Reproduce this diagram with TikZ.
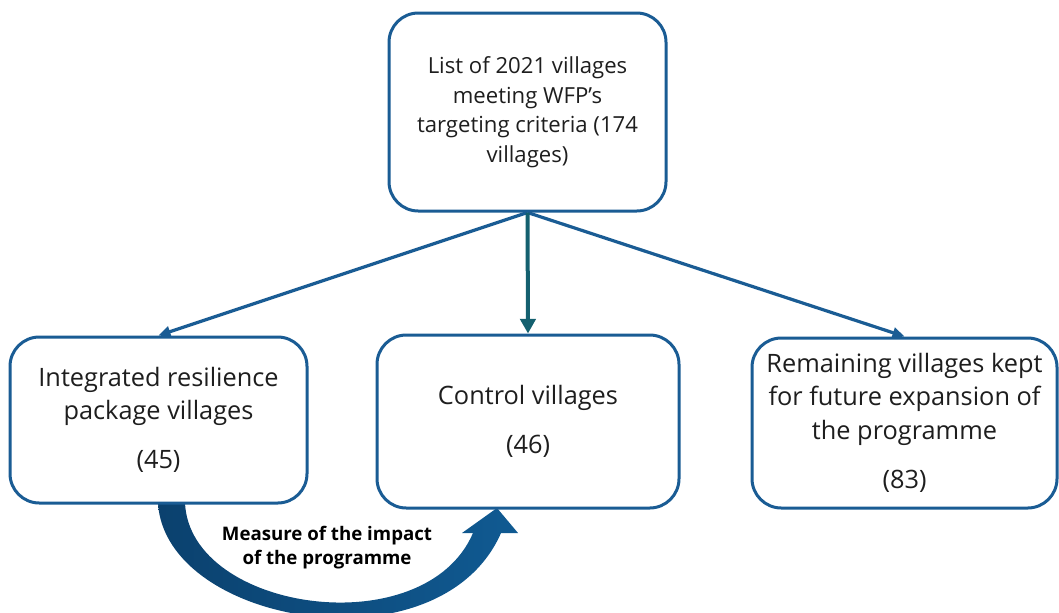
\documentclass[tikz,border=0pt]{standalone}
\usepackage{fontspec}
\setmainfont{Open Sans}
\usetikzlibrary{arrows.meta}
\definecolor{boxblue}{HTML}{1A5C94}
\definecolor{tealarrow}{HTML}{14606F}
\definecolor{arcdark}{HTML}{0B416E}
\definecolor{arclight}{HTML}{105A92}
\definecolor{txt}{HTML}{1E1E1E}
\begin{document}
\begin{tikzpicture}[x=0.75pt,y=-0.75pt,
  box/.style={draw=boxblue, line width=2.25pt, rounded corners=22pt, fill=white,
    align=center, text=txt, inner sep=0pt},
  toptext/.style={font=\fontsize{16.6}{22.2}\selectfont},
  lowtext/.style={font=\fontsize{19}{25}\selectfont},
  link/.style={draw=boxblue, line width=2.4pt, -{Triangle[length=9pt,width=8pt]}},
  mainlink/.style={draw=tealarrow, line width=3pt, -{Triangle[length=11pt,width=11.5pt]}},
  impact/.style={font=\bfseries\fontsize{14}{18}\selectfont, align=center, text=black}]
\useasboundingbox (0,0) rectangle (1059,612);

% curved impact arrow from the intervention villages to the control villages
\shade[left color=arcdark, right color=arclight]
  (158,503) -- (185,503)
  .. controls (190,612) and (425,645) .. (473,533)
  -- (462,533) -- (497,508) -- (518,533) -- (501,533)
  .. controls (440,672) and (165,625) .. (158,503) -- cycle;

% boxes
\node[box, toptext, minimum width=207.75pt, minimum height=148.5pt] (list) at (527.5,112)
  {List of 2021 villages\\meeting WFP’s\\targeting criteria (174\\villages)};
\node[box, lowtext, minimum width=222.75pt, minimum height=124.5pt] (irp) at (158.5,420)
  {Integrated resilience\\package villages\\[12pt](45)};
\node[box, lowtext, minimum width=226.5pt, minimum height=129.75pt] (ctrl) at (528,421.5)
  {Control villages\\[12pt](46)};
\node[box, lowtext, minimum width=228.75pt, minimum height=127.5pt] (rest) at (904.5,423)
  {Remaining villages kept\\for future expansion of\\the programme\\[12pt](83)};

% connectors
\draw[link] (list.south) -- (irp.north);
\draw[link] (list.south) -- (rest.north);
\draw[mainlink] (list.south) -- (ctrl.north);

\node[impact] (measure) at (327,548) {Measure of the impact\\of the programme};
\end{tikzpicture}
\end{document}
